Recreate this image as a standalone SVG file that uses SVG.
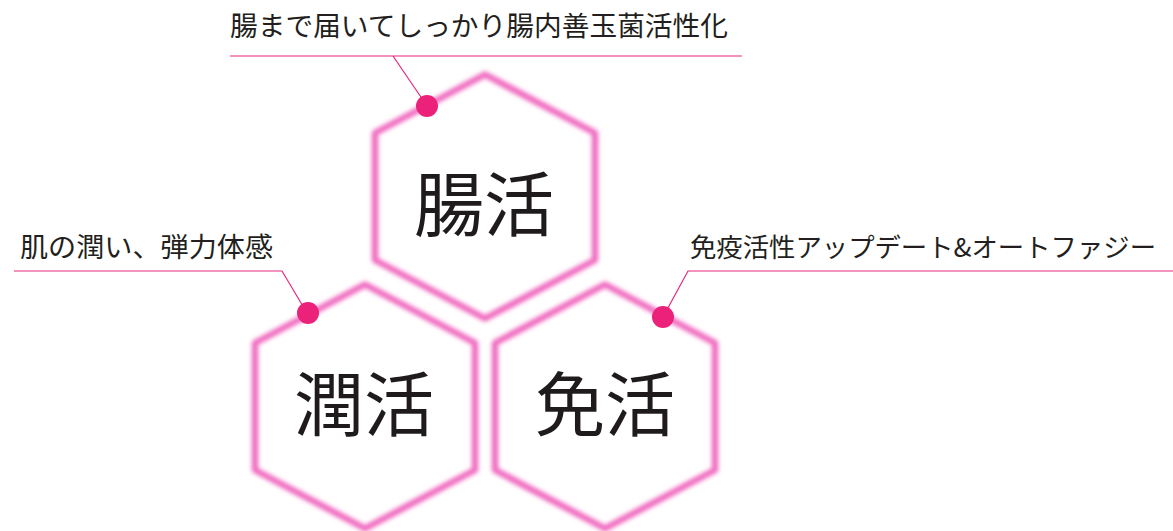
<svg xmlns="http://www.w3.org/2000/svg" width="1173" height="531" viewBox="0 0 1173 531">
  <defs>
    <filter id="glow" x="-20%" y="-20%" width="140%" height="140%">
      <feGaussianBlur stdDeviation="1.9"/>
    </filter>
    <path id="hexShape" d="M0,-122 L110,-63.5 L110,63.5 L0,122 L-110,63.5 L-110,-63.5 Z"/>
  </defs>
  <style>
    .hex { fill: none; stroke: #f06ac0; stroke-width: 6.5; stroke-linejoin: round; filter: url(#glow); }
    .lead { fill: none; stroke: #e8267c; stroke-width: 1.2; }
    .dot { fill: #ec217a; }
    .label { font-family: "Noto Sans CJK JP", "Noto Sans CJK SC", sans-serif; font-size: 27.5px; fill: #231f20; }
    .label-sm { font-size: 26px; }
    .title { font-family: "Noto Sans CJK JP", "Noto Sans CJK SC", sans-serif; font-size: 70px; fill: #1f1b1c; text-anchor: middle; }
  </style>
  <rect width="1173" height="531" fill="#ffffff"/>

  <g id="node-chokatsu">
    <use href="#hexShape" class="hex" transform="translate(485,196.5)"/>
    <text class="title" x="484" y="231">腸活</text>
  </g>
  <g id="node-junkatsu">
    <use href="#hexShape" class="hex" transform="translate(365,406.5)"/>
    <text class="title" x="364" y="431">潤活</text>
  </g>
  <g id="node-menkatsu">
    <use href="#hexShape" class="hex" transform="translate(605,406.5)"/>
    <text class="title" x="605" y="431">免活</text>
  </g>

  <g id="connectors">
    <polyline class="lead" points="742,56 230,56 393,56 427,106"/>
    <circle class="dot" cx="427" cy="106" r="11"/>
    <polyline class="lead" points="14,271 282,271 307,313"/>
    <circle class="dot" cx="308" cy="313" r="11"/>
    <polyline class="lead" points="1173,271 688,271 663,317"/>
    <circle class="dot" cx="663" cy="317" r="11"/>
  </g>

  <g id="label-top">
    <text class="label" x="230" y="36" textLength="498" lengthAdjust="spacingAndGlyphs">腸まで届いてしっかり腸内善玉菌活性化</text>
  </g>
  <g id="label-left">
    <text class="label" x="20" y="257" textLength="253" lengthAdjust="spacingAndGlyphs">肌の潤い、弾力体感</text>
  </g>
  <g id="label-right">
    <text class="label label-sm" x="690" y="257" textLength="466" lengthAdjust="spacingAndGlyphs">免疫活性アップデート&amp;オートファジー</text>
  </g>
</svg>
